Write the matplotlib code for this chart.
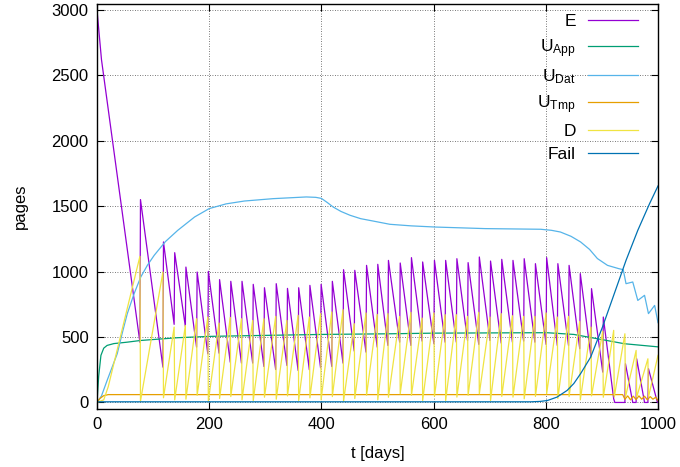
import matplotlib
matplotlib.use('Agg')
import matplotlib.pyplot as plt

plt.rcParams['font.family'] = ['Liberation Sans', 'DejaVu Sans']
plt.rcParams['mathtext.fontset'] = 'custom'
plt.rcParams['mathtext.rm'] = 'Liberation Sans'
plt.rcParams['mathtext.it'] = 'Liberation Sans'

# --- data ---
# days where E jumps up / D drops down
jump_t = [77, 118, 138, 158, 178, 198, 218, 238, 258, 278, 298, 319, 339, 359,
          379, 399, 419, 439, 459, 480, 500, 519, 540, 560, 580, 601, 621, 641,
          661, 681, 701, 721, 741, 761, 781, 801, 821, 841, 861, 881, 902]
e_trough = [460, 270, 597, 581, 423, 372, 377, 308, 301, 301, 275, 252, 283, 245,
            250, 265, 275, 301, 393, 385, 423, 436, 461, 436, 469, 449, 461, 461,
            474, 444, 474, 454, 461, 469, 461, 444, 436, 436, 411, 347, 232]
e_peak = [1551, 1227, 1145, 1035, 997, 1002, 939, 926, 926, 903, 877, 908, 872, 877,
          895, 903, 926, 1015, 1010, 1048, 1056, 1086, 1066, 1107, 1074, 1086, 1086, 1099,
          1069, 1112, 1081, 1094, 1086, 1099, 1061, 1107, 1061, 1048, 985, 870, 653]
d_peak = [1117, 997, 576, 589, 640, 653, 607, 650, 640, 627, 640, 658, 627, 666,
          653, 679, 692, 709, 602, 684, 673, 679, 658, 689, 645, 684, 671, 671,
          658, 689, 653, 679, 663, 658, 658, 684, 653, 658, 620, 576, 545]
d_floor = [10, 36, 20, 25, 54, 10, 30, 45, 20, 15, 40, 25, 50, 15,
           35, 20, 45, 10, 30, 55, 20, 40, 66, 54, 15, 46, 15, 41,
           54, 66, 15, 46, 41, 28, 46, 66, 30, 45, 20, 50, 40]

e_head_t = [0, 8]
e_head_v = [3000, 2620]
e_tail_t = [921, 923, 941, 942, 955, 961, 962, 976, 982, 983, 999, 1000]
e_tail_v = [28, 0, 0, 296, 0, 0, 334, 0, 0, 258, 0, 0]

d_head_t = [0, 12, 20]
d_head_v = [0, 20, 120]
d_tail_t = [921, 922, 941, 942, 961, 962, 982, 983, 1000]
d_tail_v = [551, 41, 525, 41, 398, 41, 334, 41, 360]

uapp_t = [0, 3, 7, 12, 18, 30, 54, 78, 144, 200, 263, 400, 522, 603, 782, 803, 850, 892, 940, 1000]
uapp_v = [0, 200, 360, 415, 436, 450, 461, 474, 495, 505, 510, 520, 525, 530, 533, 533, 520, 487, 449, 425]

udat_t = [0, 8, 18, 27, 36, 45, 54, 66, 78, 90, 102, 122, 144, 174, 200, 230, 263, 314, 373,
          390, 400, 410, 421, 435, 451, 470, 492, 522, 560, 603, 692, 791, 810, 826, 845, 862,
          878, 892, 910, 930, 938, 943, 955, 964, 976, 983, 994, 1000]
udat_v = [0, 50, 168, 270, 372, 530, 679, 830, 959, 1050, 1125, 1230, 1316, 1418, 1482, 1518,
          1540, 1558, 1571, 1568, 1560, 1530, 1494, 1460, 1431, 1405, 1387, 1362, 1350, 1341,
          1329, 1324, 1316, 1303, 1270, 1227, 1170, 1100, 1048, 1023, 1015, 908, 921, 780, 819,
          679, 742, 610]

utmp_t = [0, 5, 12, 20, 937, 941, 946, 951, 956, 961, 966, 971, 976, 981, 986, 991, 996, 1000]
utmp_v = [0, 30, 52, 60, 60, 25, 50, 20, 48, 22, 50, 25, 48, 20, 45, 25, 40, 15]

fail_t = [0, 773, 790, 803, 820, 838, 850, 862, 880, 901, 922, 943, 964, 985, 1000]
fail_v = [5, 5, 8, 15, 41, 92, 145, 220, 347, 576, 831, 1086, 1316, 1520, 1655]

# build the sawtooth series
e_t, e_v = list(e_head_t), list(e_head_v)
d_t, d_v = list(d_head_t), list(d_head_v)
for t, lo, hi, dp, df in zip(jump_t, e_trough, e_peak, d_peak, d_floor):
    e_t += [t - 0.5, t + 0.5]
    e_v += [lo, hi]
    d_t += [t - 0.5, t + 0.5]
    d_v += [dp, df]
e_t += e_tail_t
e_v += e_tail_v
d_t += d_tail_t
d_v += d_tail_v

fig = plt.figure(figsize=(6.8, 4.67), dpi=100)
ax = fig.add_axes([97 / 680, 58 / 467, 561 / 680, 405 / 467])

lw = 0.9
ax.plot(e_t, e_v, color='#9400d3', lw=lw, label='E')
ax.plot(uapp_t, uapp_v, color='#009e73', lw=lw, label=r'U$_{\mathrm{App}}$')
ax.plot(udat_t, udat_v, color='#56b4e9', lw=lw, label=r'U$_{\mathrm{Dat}}$')
ax.plot(utmp_t, utmp_v, color='#e69f00', lw=lw, label=r'U$_{\mathrm{Tmp}}$')
ax.plot(d_t, d_v, color='#f0e442', lw=lw, label='D')
ax.plot(fail_t, fail_v, color='#0072b2', lw=lw, label='Fail')

ax.set_xlim(0, 1000)
ax.set_ylim(-50, 3046)
ax.set_xticks(range(0, 1001, 200))
ax.set_yticks(range(0, 3001, 500))
ax.tick_params(direction='in', length=5, width=0.8, top=True, right=True, labelsize=12, pad=6)
ax.grid(True, color='black', linestyle=(0, (1, 2)), linewidth=0.6, alpha=0.7)
for s in ax.spines.values():
    s.set_linewidth(1.0)

ax.set_xlabel('t [days]', fontsize=12, labelpad=10)
ax.set_ylabel('pages', fontsize=12, labelpad=17)

ax.legend(loc='upper right', bbox_to_anchor=(0.965, 0.975), frameon=False,
          markerfirst=False, fontsize=12.5, handlelength=2.9, handletextpad=0.7,
          labelspacing=0.44, borderpad=0, borderaxespad=0)

plt.savefig('out.png', dpi=100)
